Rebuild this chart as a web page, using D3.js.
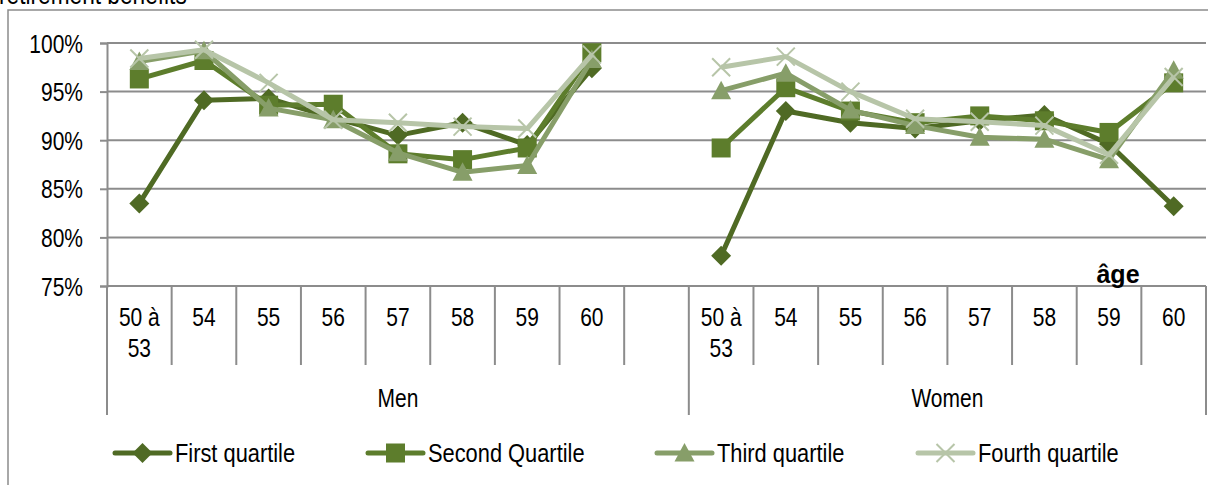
<!DOCTYPE html>
<html>
<head>
<meta charset="utf-8">
<script src="https://cdn.jsdelivr.net/npm/d3@7"></script>
<style>
  html, body { margin: 0; padding: 0; background: #fff; overflow: hidden; }
  svg { display: block; }
  text { font-family: "Liberation Sans", Arial, sans-serif; fill: #000; }
</style>
</head>
<body>
<svg id="chart" width="1215" height="485"></svg>
<script>
// Age bands shown within each sex group
const ages = ["50 à 53", "54", "55", "56", "57", "58", "59", "60"];
const groups = ["Men", "Women"];

// Replacement rate (%) by income quartile, Men then Women
const firstMen    = [83.5, 94.1, 94.3, 92.3, 90.5, 91.8, 89.5, 97.4];
const firstWomen  = [78.1, 93.0, 91.8, 91.2, 92.0, 92.6, 89.6, 83.2];
const secondMen   = [96.3, 98.2, 93.6, 93.7, 88.6, 88.0, 89.2, 99.0];
const secondWomen = [89.2, 95.4, 93.0, 91.8, 92.5, 92.0, 90.8, 95.9];
const thirdMen    = [98.1, 99.2, 93.3, 92.1, 88.7, 86.7, 87.4, 98.3];
const thirdWomen  = [95.1, 96.9, 93.1, 91.5, 90.3, 90.1, 88.0, 97.2];
const fourthMen   = [98.4, 99.3, 95.9, 92.1, 91.8, 91.4, 91.2, 98.8];
const fourthWomen = [97.5, 98.6, 95.0, 92.2, 91.9, 91.5, 88.5, 96.5];

const seriesNames = ["First quartile", "Second Quartile", "Third quartile", "Fourth quartile"];
const yTicks = [75, 80, 85, 90, 95, 100];

const series = [
  { name: seriesNames[0], men: firstMen,  women: firstWomen,  color: "#4f6a24", marker: "diamond" },
  { name: seriesNames[1], men: secondMen, women: secondWomen, color: "#5d7d2c", marker: "square" },
  { name: seriesNames[2], men: thirdMen,  women: thirdWomen,  color: "#879e69", marker: "triangle" },
  { name: seriesNames[3], men: fourthMen, women: fourthWomen, color: "#b7c5a8", marker: "cross" }
];

const svg = d3.select("#chart");
const plotLeft = 107, plotRight = 1206, plotTop = 43, plotBottom = 286;
const gridColor = "#8c8c8c";
const NARROW = 0.84;   // horizontal squeeze for a condensed face

// Condensed text: placed with a translate, squeezed horizontally
function narrowText(parent, px, py, str, size, anchor) {
  return parent.append("text")
    .attr("transform", `translate(${px},${py}) scale(${NARROW},1)`)
    .attr("text-anchor", anchor || "start")
    .attr("font-size", size)
    .text(str);
}

// 17 slots: 8 ages for men, an empty slot, 8 ages for women
const slotKeys = [...ages.map((a, i) => "M" + i), "gap", ...ages.map((a, i) => "W" + i)];
const x = d3.scaleBand().domain(slotKeys).range([plotLeft, plotRight]).paddingInner(0).paddingOuter(0);
const cx = k => x(k) + x.bandwidth() / 2;
const y = d3.scaleLinear().domain([75, 100]).range([plotBottom, plotTop]);

// Outer frame (left and top edges)
svg.append("path").attr("d", `M8,485 V10 H1208`).attr("fill", "none")
  .attr("stroke", gridColor).attr("stroke-width", 1.5);

// Title running off the top edge
narrowText(svg, -1, 4, "retirement benefits", 27);

// Horizontal gridlines
svg.append("g").selectAll("line").data(yTicks.filter(t => t > 75)).join("line")
  .attr("x1", plotLeft).attr("x2", plotRight)
  .attr("y1", d => y(d)).attr("y2", d => y(d))
  .attr("stroke", gridColor).attr("stroke-width", 2);

// Y axis
const yAxis = svg.append("g").attr("transform", `translate(${plotLeft},0)`)
  .call(d3.axisLeft(y).tickValues(yTicks).tickSize(7).tickPadding(0).tickFormat(d => d + "%"));
yAxis.select(".domain").attr("stroke", gridColor).attr("stroke-width", 2);
yAxis.selectAll(".tick line").attr("stroke", gridColor).attr("stroke-width", 2);
yAxis.selectAll(".tick text")
  .attr("x", null).attr("dy", null)
  .attr("transform", `translate(-24,9) scale(${NARROW},1)`)
  .attr("font-size", 25)
  .style("font-family", '"Liberation Sans", Arial, sans-serif');

// Category axis baseline
svg.append("line").attr("x1", plotLeft).attr("x2", plotRight).attr("y1", plotBottom).attr("y2", plotBottom)
  .attr("stroke", gridColor).attr("stroke-width", 2);

// Slot separators (short) and group separators (long)
const boundaries = slotKeys.map(k => x(k)).concat([plotRight]);
const groupEdges = [plotLeft, x("W0"), plotRight];
svg.append("g").selectAll("line").data(boundaries).join("line")
  .attr("x1", d => d).attr("x2", d => d)
  .attr("y1", plotBottom).attr("y2", d => groupEdges.some(g => Math.abs(g - d) < 0.5) ? 415 : 365)
  .attr("stroke", gridColor).attr("stroke-width", 2);

// Age labels
const ageLabels = svg.append("g");
slotKeys.forEach(k => {
  if (k === "gap") return;
  const label = ages[+k.slice(1)];
  if (label === "50 à 53") {
    narrowText(ageLabels, cx(k), 326, "50 à", 25, "middle");
    narrowText(ageLabels, cx(k), 357, "53", 25, "middle");
  } else {
    narrowText(ageLabels, cx(k), 326, label, 25, "middle");
  }
});

// Group labels
narrowText(svg, (plotLeft + x("gap") + x.bandwidth()) / 2, 407, groups[0], 25, "middle");
narrowText(svg, (x("W0") + plotRight) / 2, 407, groups[1], 25, "middle");

// Axis caption
svg.append("text").attr("x", 1118).attr("y", 283).attr("text-anchor", "middle")
  .attr("font-size", 25).attr("font-weight", "bold").text("âge");

// Marker drawing
function drawMarker(g, type, px, py, color) {
  if (type === "diamond") {
    const s = 10;
    g.append("path").attr("d", `M${px},${py - s}L${px + s},${py}L${px},${py + s}L${px - s},${py}Z`)
      .attr("fill", color);
  } else if (type === "square") {
    const s = 9.5;
    g.append("rect").attr("x", px - s).attr("y", py - s).attr("width", 2 * s).attr("height", 2 * s)
      .attr("fill", color);
  } else if (type === "triangle") {
    const s = 10;
    g.append("path").attr("d", `M${px},${py - s}L${px + s},${py + s * 0.85}L${px - s},${py + s * 0.85}Z`)
      .attr("fill", color);
  } else if (type === "cross") {
    const s = 9;
    g.append("path").attr("d", `M${px - s},${py - s}L${px + s},${py + s}M${px + s},${py - s}L${px - s},${py + s}`)
      .attr("stroke", color).attr("stroke-width", 2).attr("fill", "none");
  }
}

const line = d3.line().x(d => d[0]).y(d => d[1]);
const plot = svg.append("g");
series.forEach(s => {
  const g = plot.append("g");
  [["M", s.men], ["W", s.women]].forEach(([p, vals]) => {
    const pts = vals.map((v, i) => [cx(p + i), y(v)]);
    g.append("path").attr("d", line(pts)).attr("fill", "none")
      .attr("stroke", s.color).attr("stroke-width", 5).attr("stroke-linejoin", "round");
    pts.forEach(pt => drawMarker(g, s.marker, pt[0], pt[1], s.color));
  });
});

// Legend
const legendX = [115, 368, 657, 918];
const legend = svg.append("g");
series.forEach((s, i) => {
  const lx = legendX[i], ly = 453;
  legend.append("line").attr("x1", lx).attr("x2", lx + 55).attr("y1", ly).attr("y2", ly)
    .attr("stroke", s.color).attr("stroke-width", 5).attr("stroke-linecap", "round");
  drawMarker(legend, s.marker, lx + 27.5, ly, s.color);
  narrowText(legend, lx + 60, ly + 9, s.name, 26);
});
</script>
</body>
</html>
